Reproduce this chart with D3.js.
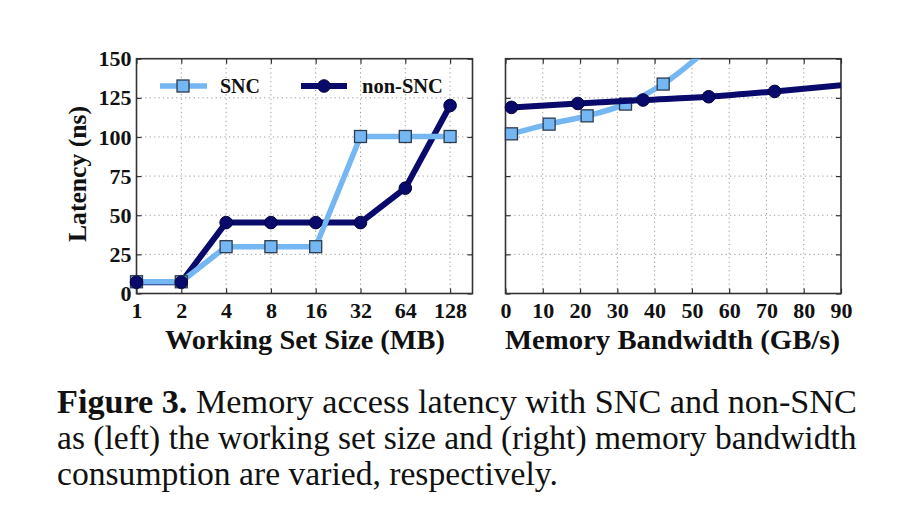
<!DOCTYPE html>
<html><head><meta charset="utf-8">
<script src="https://cdn.jsdelivr.net/npm/d3@7"></script>
<style>
html,body{margin:0;padding:0;background:#fff;}
svg{display:block;}
text{font-family:"Liberation Serif","Times New Roman",serif;fill:#111;}
</style></head>
<body>
<svg id="c" width="915" height="525"></svg>
<script>
// ---- data ----
const sizeLabels = ["1","2","4","8","16","32","64","128"];
const sncLatency = [7.5, 7.5, 29.9, 29.9, 29.9, 100.3, 100.3, 100.3];
const nonSncLatency = [7.2, 7.2, 45.3, 45.3, 45.3, 45.3, 67.3, 120.1];
const bwTicks = [0,10,20,30,40,50,60,70,80,90];
const latTicks = [0,25,50,75,100,125,150];
const sncBw = [1.6, 11.7, 21.9, 32.2, 42.3, 56];
const sncBwLat = [102, 108.2, 113.5, 121, 133.8, 160];
const nonSncBw = [1.6, 19.4, 36.9, 54.5, 72.2, 91];
const nonSncBwLat = [118.9, 121.4, 123.6, 125.7, 129.1, 133.3];
const seriesNames = ["SNC","non-SNC"];
const captionBold = "Figure 3.";
const captionLines = [" Memory access latency with SNC and non-SNC",
  "as (left) the working set size and (right) memory bandwidth",
  "consumption are varied, respectively."];

const C_SNC = "#74b7f2", C_NON = "#0a0a6c", FRAME = "#333";
const svg = d3.select("#c");

const yScale = d3.scaleLinear().domain([0,150]).range([293.5, 58.7]);
const xL = d3.scaleLinear().domain([0,7.5]).range([136.5, 472.5]);
const xR = d3.scaleLinear().domain([0,90]).range([505.5, 841]);

function panel(x, xticks, xfmt, gridVals, id, showY) {
  const g = svg.append("g");
  const [x0,x1] = x.range(); const [y0,y1] = yScale.range();
  g.append("clipPath").attr("id", id).append("rect")
    .attr("x", x0).attr("y", y1).attr("width", x1-x0).attr("height", y0-y1);
  // grid
  g.selectAll(".gy").data(latTicks.slice(1,-1)).join("line")
    .attr("x1", x0).attr("x2", x1).attr("y1", d=>yScale(d)).attr("y2", d=>yScale(d))
    .attr("stroke","#999").attr("stroke-width",1).attr("stroke-dasharray","1.2,3.2");
  g.selectAll(".gx").data(gridVals).join("line")
    .attr("x1", d=>x(d)).attr("x2", d=>x(d)).attr("y1", y0).attr("y2", y1)
    .attr("stroke","#999").attr("stroke-width",1).attr("stroke-dasharray","1.2,3.2");
  // axes with inward ticks (mirrored)
  const ax = g.append("g");
  const bx = ax.append("g").attr("transform",`translate(0,${y0})`)
    .call(d3.axisBottom(x).tickValues(xticks).tickSize(-5).tickPadding(8).tickFormat(xfmt));
  bx.selectAll(".tick text").attr("y", 9).attr("dy","0.71em");
  ax.append("g").attr("transform",`translate(0,${y1})`)
    .call(d3.axisTop(x).tickValues(xticks).tickSize(-5).tickFormat(""));
  ax.append("g").attr("transform",`translate(${x0},0)`)
    .call(d3.axisLeft(yScale).tickValues(latTicks).tickSize(-5).tickPadding(5)
      .tickFormat(showY ? d3.format("d") : ""));
  ax.append("g").attr("transform",`translate(${x1},0)`)
    .call(d3.axisRight(yScale).tickValues(latTicks).tickSize(-5).tickFormat(""));
  ax.selectAll(".domain").remove();
  ax.selectAll(".tick line").attr("stroke", FRAME).attr("stroke-width",1.2);
  ax.selectAll(".tick text").attr("font-size", 22).attr("font-weight","bold")
    .attr("font-family",'"Liberation Serif",serif').attr("fill","#111");
  g.append("rect").attr("x",x0).attr("y",y1).attr("width",x1-x0).attr("height",y0-y1)
    .attr("fill","none").attr("stroke",FRAME).attr("stroke-width",1.6);
  return g;
}

const gl = panel(xL, d3.range(sizeLabels.length), i=>sizeLabels[i], d3.range(1,sizeLabels.length), "clipL", true);
const gr = panel(xR, bwTicks, d3.format("d"), bwTicks.slice(1,-1), "clipR", false);

function drawSeries(g, x, xs, ys, color, shape, clip, curve) {
  const pts = xs.map((v,i)=>[v, ys[i]]);
  const line = d3.line().x(d=>x(d[0])).y(d=>yScale(d[1])).curve(curve);
  g.append("path").datum(pts).attr("d", line).attr("fill","none")
    .attr("stroke", color).attr("stroke-width", shape==="sq"?5.5:6)
    .attr("stroke-linejoin","round").attr("clip-path",`url(#${clip})`);
  return pts;
}
function drawMarkers(g, x, pts, shape) {
  const [d0,d1] = x.domain();
  const vis = pts.filter(d=>d[0]>=d0 && d[0]<=d1 && d[1]<=150);
  if (shape==="sq") {
    g.selectAll(null).data(vis).join("rect")
      .attr("x", d=>x(d[0])-6).attr("y", d=>yScale(d[1])-6).attr("width",12).attr("height",12)
      .attr("fill", C_SNC).attr("stroke","#2e3b4e").attr("stroke-width",1.3);
  } else {
    g.selectAll(null).data(vis).join("circle")
      .attr("cx", d=>x(d[0])).attr("cy", d=>yScale(d[1])).attr("r",6.3)
      .attr("fill", C_NON).attr("stroke","#05053a").attr("stroke-width",1);
  }
}

// left panel
const idx = d3.range(sizeLabels.length);
const nL = drawSeries(gl, xL, idx, nonSncLatency, C_NON, "ci", "clipL", d3.curveLinear);
const sL = drawSeries(gl, xL, idx, sncLatency, C_SNC, "sq", "clipL", d3.curveLinear);
drawMarkers(gl, xL, sL, "sq");
drawMarkers(gl, xL, nL, "ci");

// right panel
const sR = drawSeries(gr, xR, sncBw, sncBwLat, C_SNC, "sq", "clipR", d3.curveMonotoneX);
drawMarkers(gr, xR, sR, "sq");
const nR = drawSeries(gr, xR, nonSncBw, nonSncBwLat, C_NON, "ci", "clipR", d3.curveMonotoneX);
drawMarkers(gr, xR, nR, "ci");

// legend
const leg = svg.append("g");
leg.append("line").attr("x1",160).attr("x2",207).attr("y1",86).attr("y2",86)
  .attr("stroke",C_SNC).attr("stroke-width",5.5);
leg.append("rect").attr("x",183-6).attr("y",86-6).attr("width",12).attr("height",12)
  .attr("fill",C_SNC).attr("stroke","#2e3b4e").attr("stroke-width",1.3);
leg.append("text").attr("x",220).attr("y",93).attr("font-size",20).attr("font-weight","bold").text(seriesNames[0]);
leg.append("line").attr("x1",301).attr("x2",347).attr("y1",86).attr("y2",86)
  .attr("stroke",C_NON).attr("stroke-width",6);
leg.append("circle").attr("cx",324).attr("cy",86).attr("r",6.3)
  .attr("fill",C_NON).attr("stroke","#05053a").attr("stroke-width",1);
leg.append("text").attr("x",362).attr("y",93).attr("font-size",20.5).attr("font-weight","bold").text(seriesNames[1]);

// axis titles
function fit(t, w){ t.attr("textLength", w).attr("lengthAdjust","spacingAndGlyphs"); return t; }
fit(svg.append("text").attr("x",165).attr("y",349).attr("font-size",27).attr("font-weight","bold")
  .text("Working Set Size (MB)"), 280);
fit(svg.append("text").attr("x",505).attr("y",349).attr("font-size",27).attr("font-weight","bold")
  .text("Memory Bandwidth (GB/s)"), 335);
fit(svg.append("text").attr("transform","translate(86,242) rotate(-90)").attr("font-size",26)
  .attr("font-weight","bold").text("Latency (ns)"), 136);

// caption
const cap = svg.append("g");
const widths = [800, 800, 501];
const ys = [413, 449, 485];
captionLines.forEach((line,i)=>{
  const t = cap.append("text").attr("x",57).attr("y",ys[i]).attr("font-size",32);
  if (i===0) t.append("tspan").attr("font-weight","bold").text(captionBold);
  t.append("tspan").text(line);
  const w = t.node().getComputedTextLength();
  t.attr("font-size", 32*widths[i]/w);
});
</script>
</body></html>
